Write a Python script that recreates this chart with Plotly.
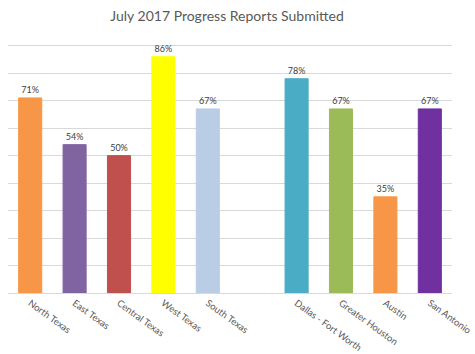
import plotly.graph_objects as go

categories = ["North Texas", "East Texas", "Central Texas", "West Texas", "South Texas", " ",
              "Dallas - Fort Worth", "Greater Houston", "Austin", "San Antonio"]
values = [0.71, 0.54, 0.50, 0.86, 0.67, None, 0.78, 0.67, 0.35, 0.67]
colors = ["#F79646", "#8064A2", "#C0504D", "#FFFF00", "#B9CDE5", "#FFFFFF",
          "#4BACC6", "#9BBB59", "#F79646", "#7030A0"]

fig = go.Figure(go.Bar(
    x=categories, y=values,
    marker=dict(color=colors, line=dict(color=colors, width=1)),
    texttemplate="%{y:.0%}", textposition="outside",
    textfont=dict(size=9, color="#404040", family="Lato"),
    cliponaxis=False,
))

fig.update_layout(
    width=475, height=354,
    margin=dict(l=8, r=23, t=43, b=61),
    paper_bgcolor="white", plot_bgcolor="white",
    title=dict(text="July 2017 Progress Reports Submitted", x=0.478, xanchor="center",
               y=0.955, yanchor="middle",
               font=dict(size=14, color="#595959", family="Lato")),
    bargap=0.48,
    showlegend=False,
    font=dict(family="Lato", color="#595959"),
)
fig.update_xaxes(tickangle=36, tickfont=dict(size=9.5, color="#595959"), automargin=False,
                 showline=True, linecolor="#D9D9D9", linewidth=1, ticks="", showgrid=False)
fig.update_yaxes(range=[0, 0.91], tick0=0, dtick=0.1, showgrid=True, gridcolor="#D9D9D9", gridwidth=1,
                 showticklabels=False, zeroline=False, ticks="")

fig.write_html("out.html")
